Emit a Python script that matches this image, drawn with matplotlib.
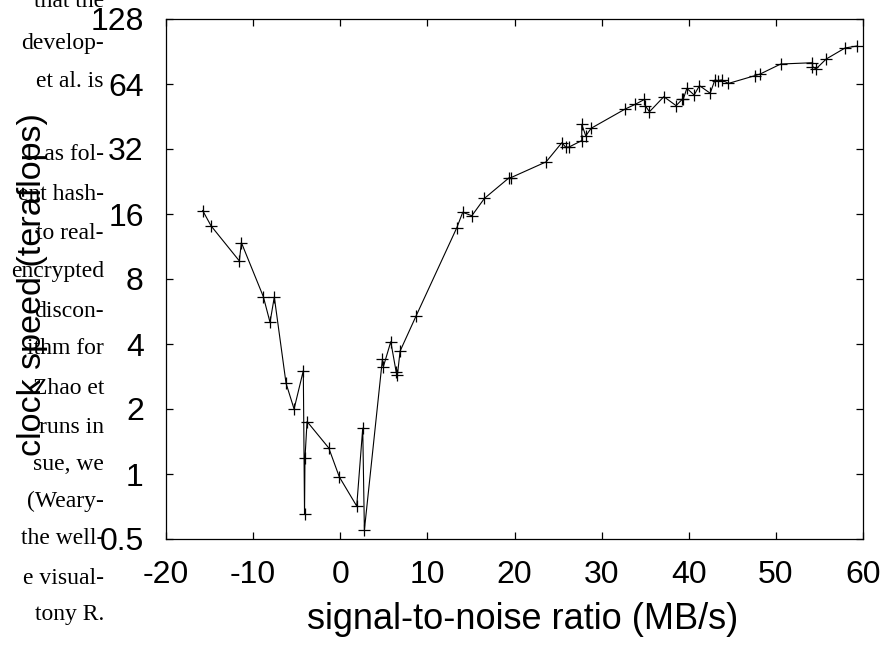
import matplotlib
matplotlib.use("Agg")
import matplotlib.pyplot as plt

# data
snr = [-15.79, -14.83, -11.58, -11.35, -8.83, -8.06, -7.57, -6.22, -5.30, -4.24,
       -4.10, -4.05, -3.81, -1.32, -0.11, 1.89, 2.58, 2.77, 4.84, 4.95,
       5.80, 6.41, 6.56, 6.87, 8.70, 13.37, 14.06, 15.10, 16.55, 19.41,
       19.61, 23.63, 25.43, 25.89, 26.27, 27.72, 27.72, 28.18, 28.79, 32.70,
       33.85, 34.92, 35.03, 35.49, 37.14, 38.55, 39.24, 39.39, 39.78, 40.62,
       41.23, 42.46, 43.00, 43.34, 43.80, 44.56, 47.62, 48.20, 50.56, 54.20,
       54.20, 54.60, 55.77, 57.95, 59.33]
speed = [16.6, 14.1, 9.7, 11.8, 6.63, 5.04, 6.6, 2.63, 2.0, 3.01,
         0.65, 1.18, 1.75, 1.32, 0.97, 0.71, 1.63, 0.55, 3.40, 3.14,
         4.10, 2.98, 2.87, 3.71, 5.39, 13.8, 16.3, 15.7, 18.9, 23.6,
         23.6, 27.9, 34.2, 32.6, 32.7, 35.0, 41.6, 36.8, 39.9, 49.0,
         51.5, 54.3, 50.6, 47.6, 55.9, 50.8, 54.3, 54.7, 61.1, 56.9,
         62.9, 58.0, 66.8, 66.3, 66.8, 64.4, 70.0, 71.2, 79.2, 80.3,
         77.1, 75.1, 83.5, 94.0, 96.0]

xticks = [-20, -10, 0, 10, 20, 30, 40, 50, 60]
yticks = [0.5, 1, 2, 4, 8, 16, 32, 64, 128]
ytick_labels = ["0.5", "1", "2", "4", "8", "16", "32", "64", "128"]

# bits of the paper column that show through on the left
paper_lines = ["that the", "develop-", "et al. is", "l. as fol-",
               "ent hash-", "to real-", "encrypted", "discon-", "ithm for",
               "Zhao et", "runs in", "sue, we", "(Weary-", "the well-",
               "e visual-", "tony R."]
paper_y = [7, 49, 87, 160, 200, 239, 277, 317, 354,
           394, 433, 470, 507, 544, 584, 620]

W, H = 889, 646
plt.rcParams['font.family'] = ['Liberation Sans', 'DejaVu Sans']
fig = plt.figure(figsize=(W / 100, H / 100), dpi=100)
ax = fig.add_axes([166 / W, 1 - 539 / H, 697 / W, 520 / H])

ax.plot(snr, speed, color='black', lw=0.8, marker='+', ms=8, mew=0.9)

ax.set_yscale('log', base=2)
ax.set_xlim(-20, 60)
ax.set_ylim(0.5, 128)
ax.set_xticks(xticks)
ax.set_xticklabels([str(t) for t in xticks])
ax.set_yticks(yticks)
ax.set_yticklabels(ytick_labels)
ax.minorticks_off()
ax.tick_params(direction='in', length=5, width=0.9, labelsize=23,
               top=True, right=True)
ax.tick_params(axis='x', pad=15)
ax.tick_params(axis='y', pad=16)
for s in ax.spines.values():
    s.set_linewidth(0.9)

ax.set_xlabel("signal-to-noise ratio (MB/s)", fontsize=26)
ax.xaxis.set_label_coords(0.5 + 8 / 697, -(602 - 539) / 520)
ax.set_ylabel("clock speed (teraflops)", fontsize=24.6)
ax.yaxis.set_label_coords((48 - 166) / 697, 0.49)

for t, yy in zip(paper_lines, paper_y):
    fig.text(104 / W, 1 - yy / H, t, ha='right', va='baseline',
             family='Liberation Serif', fontsize=17)

fig.savefig("out.png", dpi=100)
